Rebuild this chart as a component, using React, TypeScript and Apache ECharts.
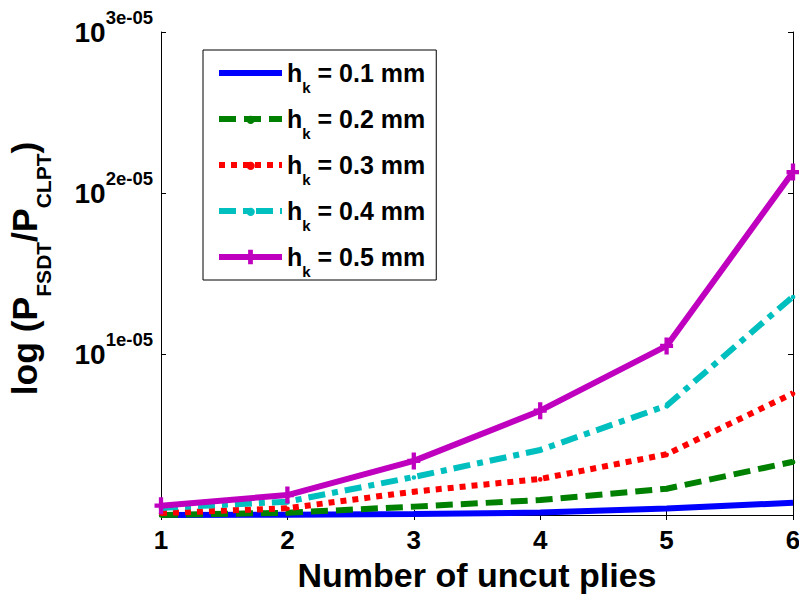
import React, { useEffect, useRef } from 'react';
import * as echarts from 'echarts';

// x categories: number of uncut plies
const plies = [1, 2, 3, 4, 5, 6];
// legend labels (h_k in mm)
const thickness = ['0.1', '0.2', '0.3', '0.4', '0.5'];
// y values in units of 1e-05 (exponent of log axis)
const hk01 = [0.0, 0.002, 0.006, 0.015, 0.040, 0.076];
const hk02 = [0.0, 0.014, 0.052, 0.093, 0.163, 0.331];
const hk03 = [0.012, 0.042, 0.145, 0.224, 0.377, 0.756];
const hk04 = [0.044, 0.083, 0.236, 0.404, 0.679, 1.357];
const hk05 = [0.058, 0.124, 0.336, 0.648, 1.05, 2.13];
const yTickMax = 3;

const FONT = '"Liberation Sans", Arial, sans-serif';
const colors = ['#0000FF', '#008000', '#FF0000', '#00BFBF', '#BF00BF'];
const dashes: any[] = ['solid', [17, 8], [6, 6], [17, 7, 6, 7], 'solid'];
const NONE = 'path://M0,0 M10,10';
const DOT = 'path://M0,0 L0.01,0 M10,10 L9.99,10 M2.2,5.6 A2.9,2.9 0 1 1 8,5.6 A2.9,2.9 0 1 1 2.2,5.6 Z';
const PLUS = 'path://M3.35,0 H6.65 V3.75 H10 V6.25 H6.65 V10 H3.35 V6.25 H0 V3.75 H3.35 Z';

export default function App() {
  const ref = useRef<HTMLDivElement>(null);
  useEffect(() => {
    if (!ref.current) return;
    const chart = echarts.init(ref.current, undefined, { renderer: 'svg' });
    const all = [hk01, hk02, hk03, hk04, hk05];
    const series = all.map((vals, i) => ({
      name: thickness[i],
      type: 'line',
      xAxisIndex: 0,
      yAxisIndex: 0,
      data: plies.map((p, j) => [p, vals[j]]),
      symbol: i === 4 ? PLUS : i === 0 ? NONE : DOT,
      symbolSize: i === 4 ? [13, 17] : 8,
      showSymbol: i !== 0,
      itemStyle: { color: colors[i] },
      lineStyle: { color: colors[i], width: 6, type: dashes[i], cap: 'butt' },
      clip: false,
      z: 2 + i,
    }));
    const tickStyle = { show: true, inside: true, length: 5, lineStyle: { color: '#000', width: 1 } };
    const axisLineStyle = { show: true, lineStyle: { color: '#000', width: 1 } };
    chart.setOption({
      animation: false,
      backgroundColor: '#fff',
      grid: { left: 161, right: 6, top: 32, bottom: 79, containLabel: false, outerBoundsMode: 'none' },
      legend: {
        orient: 'vertical',
        left: 203,
        top: 50,
        padding: [1, 11, 1, 13],
        itemWidth: 63,
        itemHeight: 18,
        itemGap: 2,
        borderColor: '#000',
        borderWidth: 1,
        backgroundColor: '#fff',
        lineStyle: { width: 6 },
        data: thickness,
        formatter: (name: string) => `{h|h}{k|k}{h| = ${name} mm}`,
        textStyle: {
          rich: {
            h: { fontSize: 25, fontWeight: 'bold', fontFamily: FONT, color: '#000', lineHeight: 30 },
            k: { fontSize: 15, fontWeight: 'bold', fontFamily: FONT, color: '#000', lineHeight: 30, padding: [29, 0, 0, 0] },
          },
        },
      },
      xAxis: [
        {
          type: 'value',
          min: plies[0],
          max: plies[plies.length - 1],
          interval: 1,
          position: 'bottom',
          axisLine: axisLineStyle,
          axisTick: tickStyle,
          splitLine: { show: false },
          axisLabel: {
            margin: 12,
            fontSize: 26,
            fontWeight: 'bold',
            fontFamily: FONT,
            color: '#000',
            lineHeight: 26,
          },
          name: 'Number of uncut plies',
          nameLocation: 'middle',
          nameGap: 42,
          nameTextStyle: { fontSize: 34, fontWeight: 'bold', fontFamily: FONT, color: '#000', lineHeight: 34 },
        },
        {
          type: 'value',
          min: plies[0],
          max: plies[plies.length - 1],
          interval: 1,
          position: 'top',
          axisLine: axisLineStyle,
          axisTick: tickStyle,
          axisLabel: { show: false },
          splitLine: { show: false },
        },
      ],
      yAxis: [
        {
          type: 'value',
          min: 0,
          max: yTickMax,
          interval: 1,
          position: 'left',
          axisLine: axisLineStyle,
          axisTick: tickStyle,
          splitLine: { show: false },
          axisLabel: {
            margin: 8,
            fontSize: 27,
            fontWeight: 'bold',
            fontFamily: FONT,
            color: '#000',
            formatter: (v: number) => (v === 0 ? '' : `{b|10}{s|${v}e-05}`),
            rich: {
              b: { fontSize: 28, fontWeight: 'bold', fontFamily: FONT, color: '#000', lineHeight: 30 },
              s: { fontSize: 18.5, fontWeight: 'bold', fontFamily: FONT, color: '#000', lineHeight: 30, padding: [0, 0, 30, 0] },
            },
          },
          name: '{m|log (P}{s|FSDT}{m|/P}{s|CLPT}{m|)}',
          nameLocation: 'middle',
          nameGap: 116,
          nameTextStyle: {
            padding: [0, 0, 0, 10],
            rich: {
              m: { fontSize: 35.5, fontWeight: 'bold', fontFamily: FONT, color: '#000', lineHeight: 40 },
              s: { fontSize: 21, fontWeight: 'bold', fontFamily: FONT, color: '#000', lineHeight: 40, padding: [36, 0, 0, 0] },
            },
          },
        },
        {
          type: 'value',
          min: 0,
          max: yTickMax,
          interval: 1,
          position: 'right',
          axisLine: axisLineStyle,
          axisTick: tickStyle,
          axisLabel: { show: false },
          splitLine: { show: false },
        },
      ],
      series,
    } as any);
    return () => chart.dispose();
  }, []);
  return (
    <div
      ref={ref}
      style={{ position: 'fixed', left: 0, top: 0, width: 799, height: 594, background: '#fff' }}
    />
  );
}
